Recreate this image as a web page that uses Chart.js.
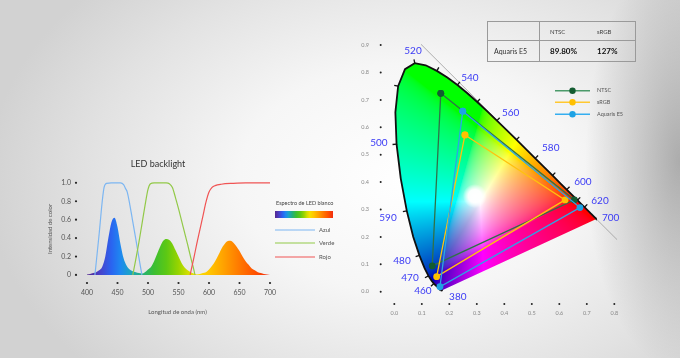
<!DOCTYPE html>
<html><head><meta charset="utf-8">
<script src="https://cdn.jsdelivr.net/npm/chart.js@4.4.1/dist/chart.umd.min.js"></script>
<style>
html,body{margin:0;padding:0;}
body{width:680px;height:358px;overflow:hidden;position:relative;font-family:Lato,"Open Sans",sans-serif;
background:
 radial-gradient(ellipse 95px 210px at 100% 45%, rgba(0,0,0,0.26), rgba(0,0,0,0) 100%),
 radial-gradient(ellipse 62% 80% at 60% 50%, #ffffff 0%, #f6f6f6 40%, #e2e2e2 75%, #d2d2d2 100%);}
#left{position:absolute;left:0;top:0;}
#right{position:absolute;left:340px;top:0;}
table{position:absolute;left:487px;top:21px;width:149px;border-collapse:collapse;border:1px solid #9a9a9a;font-family:Lato,sans-serif;}
td{padding:0;white-space:nowrap;}
tr.h td{height:18px;font-size:6px;color:#444;}
tr.v td{height:20px;font-size:8px;font-weight:bold;color:#111;border-top:1px solid #9a9a9a;}
td.c1{width:45px;padding-left:6px;border-right:1px solid #9a9a9a;font-size:7px !important;font-weight:normal !important;color:#333 !important;}
td.c2{width:38px;padding-left:10px;}
td.c3{padding-left:9px;}
</style></head>
<body>
<canvas id="left" width="340" height="358"></canvas>
<canvas id="right" width="340" height="358"></canvas>
<table id="tbl"></table>
<script>
// ---------- LEFT CHART DATA ----------
const ledTitle = 'LED backlight';
const spectrumLabel = 'Espectro de LED blanco';
const spectrumNm = [400,405,410,415,420,425,430,435,440,445,450,455,460,465,470,475,480,485,490,495,500,505,510,515,520,525,530,535,540,545,550,555,560,565,570,575,580,585,590,595,600,605,610,615,620,625,630,635,640,645,650,655,660,665,670,675,680,685,690,695,700];
const spectrumValues = [0.005,0.01,0.02,0.03,0.05,0.09,0.20,0.40,0.57,0.62,0.52,0.33,0.18,0.10,0.06,0.04,0.03,0.02,0.015,0.03,0.06,0.09,0.15,0.23,0.31,0.37,0.39,0.38,0.34,0.27,0.20,0.13,0.08,0.05,0.03,0.015,0.006,0.01,0.02,0.03,0.06,0.10,0.15,0.21,0.28,0.33,0.365,0.37,0.35,0.31,0.26,0.20,0.15,0.11,0.07,0.05,0.03,0.02,0.01,0.005,0];
const azulNm = [413,420,425,428,432,440,455,460,463,466,470,475,480,485,490];
const azulValues = [0,0.45,0.8,0.95,0.995,1.0,1.0,0.98,0.94,0.9,0.77,0.58,0.39,0.19,0];
const verdeNm = [475,480,485,490,495,500,504,510,530,535,540,545,550,555,560,565,570,575,577];
const verdeValues = [0,0.17,0.35,0.55,0.75,0.93,0.99,1.0,1.0,0.99,0.95,0.84,0.72,0.59,0.46,0.33,0.19,0.06,0];
const rojoNm = [569,575,580,585,590,595,600,605,610,620,640,660,700];
const rojoValues = [0,0.18,0.34,0.49,0.64,0.79,0.9,0.95,0.97,0.985,0.995,1.0,1.0];
const filterLabels = ['Azul','Verde','Rojo'];
const xTicksL = [400,450,500,550,600,650,700];
const yTicksL = [0,0.2,0.4,0.6,0.8,1.0];
const xTitleL = 'Longitud de onda (nm)';
const yTitleL = 'Intensidad de color';

// ---------- RIGHT CHART DATA ----------
const locusNm = [380,390,400,410,420,425,430,435,440,445,450,455,460,465,470,475,480,485,490,495,500,505,510,515,520,525,530,535,540,545,550,555,560,565,570,575,580,585,590,595,600,605,610,615,620,625,630,635,640,650,660,680,700];
const locusX = [0.1741,0.1738,0.1733,0.1726,0.1714,0.1703,0.1689,0.1669,0.1644,0.1611,0.1566,0.1510,0.1440,0.1355,0.1241,0.1096,0.0913,0.0687,0.0454,0.0235,0.0082,0.0039,0.0139,0.0389,0.0743,0.1142,0.1547,0.1929,0.2296,0.2658,0.3016,0.3373,0.3731,0.4087,0.4441,0.4788,0.5125,0.5448,0.5752,0.6029,0.6270,0.6482,0.6658,0.6801,0.6915,0.7006,0.7079,0.7140,0.7190,0.7260,0.7300,0.7334,0.7347];
const locusY = [0.0050,0.0049,0.0048,0.0048,0.0051,0.0058,0.0069,0.0086,0.0109,0.0138,0.0177,0.0227,0.0297,0.0399,0.0578,0.0868,0.1327,0.2007,0.2950,0.4127,0.5384,0.6548,0.7502,0.8120,0.8338,0.8262,0.8059,0.7816,0.7543,0.7243,0.6923,0.6589,0.6245,0.5896,0.5547,0.5202,0.4866,0.4544,0.4242,0.3965,0.3725,0.3514,0.3340,0.3197,0.3083,0.2993,0.2920,0.2859,0.2809,0.2740,0.2700,0.2666,0.2653];
const locusTickNm = [460,470,480,490,500,510,520,530,540,550,560,570,580,590,600,610,620];
const gamutLabels = ['NTSC','sRGB','Aquaris E5'];
const ntscX = [0.169,0.655,0.138];
const ntscY = [0.724,0.335,0.094];
const srgbX = [0.257,0.621,0.154];
const srgbY = [0.572,0.335,0.055];
const aquarisX = [0.249,0.675,0.166];
const aquarisY = [0.659,0.307,0.018];
const diagX = [0.097,0.81];
const diagY = [0.903,0.19];
const whitePoint = [0.293,0.349];
const wlLabels = ['520','540','560','580','600','620','700','500','590','480','470','460','380'];
const wlLabelX = [0.068,0.275,0.423,0.569,0.686,0.748,0.787,-0.056,-0.023,0.028,0.057,0.104,0.231];
const wlLabelY = [0.878,0.780,0.652,0.524,0.400,0.331,0.270,0.543,0.269,0.112,0.050,0.003,-0.018];
const xTicksR = [0,0.1,0.2,0.3,0.4,0.5,0.6,0.7,0.8];
const yTicksR = [0,0.1,0.2,0.3,0.4,0.5,0.6,0.7,0.8,0.9];

// ---------- TABLE DATA ----------
const tableHeader = ['', 'NTSC', 'sRGB'];
const tableRow = ['Aquaris E5', '89.80%', '127%'];

(function(){
  const t = document.getElementById('tbl');
  const mk = (cells, cls) => {
    const tr = document.createElement('tr'); tr.className = cls;
    cells.forEach((c,i) => { const td = document.createElement('td'); td.className = 'c'+(i+1); td.textContent = c; tr.appendChild(td); });
    t.appendChild(tr);
  };
  mk(tableHeader,'h'); mk(tableRow,'v');
})();

Chart.defaults.font.family = 'Lato, "Open Sans", sans-serif';
Chart.defaults.animation = false;
Chart.defaults.events = [];

const pts = (xs, ys) => xs.map((x,i) => ({x, y: ys[i]}));
const closed = (xs, ys) => { const p = pts(xs, ys); p.push(p[0]); return p; };

const specStops = [[400,'#55288f'],[420,'#4a3fc6'],[440,'#2a64f0'],[455,'#1e88f0'],[470,'#1ba2c8'],[490,'#22b07a'],[510,'#3cbe32'],[530,'#5cc814'],[550,'#98d400'],[565,'#d0de00'],[580,'#f6e000'],[600,'#ffc600'],[625,'#ffa000'],[650,'#ff7800'],[675,'#ff5200'],[700,'#f02c10']];

const dotTicks = {
  id: 'dotTicks',
  afterDraw(chart, args, o) {
    const ctx = chart.ctx, a = chart.chartArea, xs = chart.scales.x, ys = chart.scales.y;
    ctx.save(); ctx.fillStyle = '#222';
    xs.ticks.forEach(t => { ctx.beginPath(); ctx.arc(xs.getPixelForValue(t.value), a.bottom + o.xOff, o.r, 0, Math.PI*2); ctx.fill(); });
    ys.ticks.forEach(t => { ctx.beginPath(); ctx.arc(a.left - o.yOff, ys.getPixelForValue(t.value), o.r, 0, Math.PI*2); ctx.fill(); });
    ctx.restore();
  }
};

// ---------- LEFT CHART ----------
const leftLegend = {
  id: 'leftLegend',
  afterDraw(chart, args, o) {
    const ctx = chart.ctx;
    ctx.save();
    ctx.font = '5.5px Lato'; ctx.fillStyle = '#444'; ctx.textBaseline = 'middle'; ctx.textAlign = 'left';
    ctx.fillText(spectrumLabel, o.x + 1, o.titleY);
    const g = ctx.createLinearGradient(o.x, 0, o.x + o.barW, 0);
    specStops.forEach(s => g.addColorStop((s[0]-400)/300, s[1]));
    ctx.fillStyle = g; ctx.fillRect(o.x, o.barY, o.barW, o.barH);
    ctx.font = '6px Lato';
    for (let i = 0; i < 3; i++) {
      const ds = chart.data.datasets[i+1];
      ctx.strokeStyle = ds.borderColor; ctx.lineWidth = 1.2;
      ctx.beginPath(); ctx.moveTo(o.x, o.itemY[i]); ctx.lineTo(o.x + o.lineW, o.itemY[i]); ctx.stroke();
      ctx.fillStyle = '#555'; ctx.fillText(ds.label, o.x + o.lineW + 4, o.itemY[i]);
    }
    ctx.restore();
  }
};

new Chart(document.getElementById('left'), {
  type: 'line',
  data: { datasets: [
    { label: spectrumLabel, data: pts(spectrumNm, spectrumValues), borderWidth: 0, pointRadius: 0, fill: 'origin', cubicInterpolationMode: 'monotone', order: 5,
      backgroundColor: (c) => {
        const ch = c.chart; if (!ch.chartArea) return '#888';
        const xs = ch.scales.x; const g = ch.ctx.createLinearGradient(xs.getPixelForValue(400), 0, xs.getPixelForValue(700), 0);
        specStops.forEach(s => g.addColorStop((s[0]-400)/300, s[1])); return g; } },
    { label: filterLabels[0], data: pts(azulNm, azulValues), borderColor: '#7cb6f2', borderWidth: 1.2, pointRadius: 0, fill: false, cubicInterpolationMode: 'monotone', order: 2 },
    { label: filterLabels[1], data: pts(verdeNm, verdeValues), borderColor: '#92c948', borderWidth: 1.2, pointRadius: 0, fill: false, cubicInterpolationMode: 'monotone', order: 1 },
    { label: filterLabels[2], data: pts(rojoNm, rojoValues), borderColor: '#f05454', borderWidth: 1.2, pointRadius: 0, fill: false, cubicInterpolationMode: 'monotone', order: 0 }
  ]},
  plugins: [dotTicks, leftLegend],
  options: {
    responsive: false, maintainAspectRatio: false,
    layout: { padding: { left: 40, right: 64, top: 150, bottom: 30 } },
    plugins: {
      legend: { display: false }, tooltip: { enabled: false },
      title: { display: true, text: ledTitle, color: '#333', font: { size: 9, weight: 'normal' }, padding: { top: 9, bottom: 9 } },
      dotTicks: { xOff: 4, yOff: 3, r: 1.1 },
      leftLegend: { x: 275, titleY: 203, barY: 211, barW: 58, barH: 7, lineW: 40, itemY: [230, 243, 257] }
    },
    scales: {
      x: { type: 'linear', min: 386.9, max: 709.8,
        afterBuildTicks: s => { s.ticks = xTicksL.map(v => ({ value: v })); },
        afterFit: s => { s.height = 49; },
        grid: { display: false, drawTicks: false }, border: { display: false },
        ticks: { color: '#555', font: { size: 7 }, padding: 10, maxRotation: 0 },
        title: { display: true, text: xTitleL, color: '#555', font: { size: 6 }, padding: { top: 0, bottom: 12 } } },
      y: { type: 'linear', min: -0.044, max: 1.044,
        afterBuildTicks: s => { s.ticks = yTicksL.map(v => ({ value: v })); },
        afterFit: s => { s.width = 39; },
        grid: { display: false, drawTicks: false }, border: { display: false },
        ticks: { color: '#555', font: { size: 7 }, padding: 8, callback: v => v === 0 ? '0' : v.toFixed(1) },
        title: { display: true, text: yTitleL, color: '#555', font: { size: 6 }, padding: { top: 6, bottom: 0 } } }
    }
  }
});

// ---------- RIGHT CHART ----------
function xyToRgb(x, y) {
  if (y <= 0.0005) y = 0.0005;
  const X = x / y, Y = 1, Z = (1 - x - y) / y;
  let r = 3.2406*X - 1.5372*Y - 0.4986*Z;
  let g = -0.9689*X + 1.8758*Y + 0.0415*Z;
  let b = 0.0557*X - 0.2040*Y + 1.0570*Z;
  r = Math.max(r, 0); g = Math.max(g, 0); b = Math.max(b, 0);
  const m = Math.max(r, g, b) || 1;
  r /= m; g /= m; b /= m;
  // darken the blue-dominated corner like the reference rendering
  const f = 1 - 0.5 * Math.max(0, b - Math.max(r, g));
  const gam = v => { v = v * f; return v <= 0.0031308 ? 12.92*v : 1.055*Math.pow(v, 1/2.4) - 0.055; };
  return [gam(r)*255, gam(g)*255, gam(b)*255];
}

const chromaFill = {
  id: 'chromaFill',
  beforeDatasetsDraw(chart) {
    const meta = chart.getDatasetMeta(3);
    const el = meta.data; if (!el.length) return;
    const xs = chart.scales.x, ys = chart.scales.y, ctx = chart.ctx;
    let x0 = Infinity, y0 = Infinity, x1 = -Infinity, y1 = -Infinity;
    el.forEach(p => { x0 = Math.min(x0, p.x); x1 = Math.max(x1, p.x); y0 = Math.min(y0, p.y); y1 = Math.max(y1, p.y); });
    x0 = Math.floor(x0) - 1; y0 = Math.floor(y0) - 1; x1 = Math.ceil(x1) + 1; y1 = Math.ceil(y1) + 1;
    const w = x1 - x0, h = y1 - y0;
    const off = document.createElement('canvas'); off.width = w; off.height = h;
    const octx = off.getContext('2d'); const img = octx.createImageData(w, h);
    for (let j = 0; j < h; j++) {
      const cy = ys.getValueForPixel(y0 + j + 0.5);
      for (let i = 0; i < w; i++) {
        const cx = xs.getValueForPixel(x0 + i + 0.5);
        const c = xyToRgb(cx, cy); const k = (j*w + i)*4;
        img.data[k] = c[0]; img.data[k+1] = c[1]; img.data[k+2] = c[2]; img.data[k+3] = 255;
      }
    }
    octx.putImageData(img, 0, 0);
    ctx.save();
    ctx.beginPath(); el.forEach((p, i) => i ? ctx.lineTo(p.x, p.y) : ctx.moveTo(p.x, p.y)); ctx.closePath(); ctx.clip();
    ctx.drawImage(off, x0, y0);
    const wx = xs.getPixelForValue(whitePoint[0]), wy = ys.getPixelForValue(whitePoint[1]);
    const rg = ctx.createRadialGradient(wx, wy, 0, wx, wy, 12);
    rg.addColorStop(0, 'rgba(255,255,255,1)'); rg.addColorStop(0.55, 'rgba(255,255,255,0.95)'); rg.addColorStop(1, 'rgba(255,255,255,0)');
    ctx.fillStyle = rg; ctx.beginPath(); ctx.arc(wx, wy, 12, 0, Math.PI*2); ctx.fill();
    ctx.restore();
  },
  afterDatasetsDraw(chart, args, o) {
    const meta = chart.getDatasetMeta(3); const el = meta.data;
    const xs = chart.scales.x, ys = chart.scales.y, ctx = chart.ctx;
    const cx = xs.getPixelForValue(whitePoint[0]), cy = ys.getPixelForValue(whitePoint[1]);
    ctx.save(); ctx.strokeStyle = '#111'; ctx.lineWidth = 1.3;
    locusTickNm.forEach(nm => {
      const i = locusNm.indexOf(nm); if (i < 1) return;
      const p = el[i], a = el[i-1], b = el[Math.min(i+1, el.length-1)];
      let tx = b.x - a.x, ty = b.y - a.y; const L = Math.hypot(tx, ty) || 1; tx /= L; ty /= L;
      let nx = ty, ny = -tx;
      if ((p.x - cx)*nx + (p.y - cy)*ny < 0) { nx = -nx; ny = -ny; }
      ctx.beginPath(); ctx.moveTo(p.x, p.y); ctx.lineTo(p.x + nx*o.tick, p.y + ny*o.tick); ctx.stroke();
    });
    ctx.font = o.font; ctx.fillStyle = o.color; ctx.textAlign = 'center'; ctx.textBaseline = 'middle';
    wlLabels.forEach((t, i) => ctx.fillText(t, xs.getPixelForValue(wlLabelX[i]), ys.getPixelForValue(wlLabelY[i])));
    ctx.restore();
  }
};

const gamutLegend = {
  id: 'gamutLegend',
  afterDraw(chart, args, o) {
    const ctx = chart.ctx; ctx.save();
    ctx.font = '5.5px Lato'; ctx.textBaseline = 'middle'; ctx.textAlign = 'left';
    for (let i = 0; i < 3; i++) {
      const ds = chart.data.datasets[i], y = o.itemY[i];
      ctx.strokeStyle = o.lineColors[i]; ctx.lineWidth = 1.6;
      ctx.beginPath(); ctx.moveTo(o.x, y); ctx.lineTo(o.x + o.lineW, y); ctx.stroke();
      ctx.fillStyle = ds.pointBackgroundColor; ctx.beginPath(); ctx.arc(o.x + o.lineW/2, y, 3.2, 0, Math.PI*2); ctx.fill();
      ctx.fillStyle = '#555'; ctx.fillText(ds.label, o.x + o.lineW + 7, y);
    }
    ctx.restore();
  }
};

new Chart(document.getElementById('right'), {
  type: 'scatter',
  data: { datasets: [
    { label: gamutLabels[0], data: closed(ntscX, ntscY), showLine: true, borderColor: '#2f7248', pointBackgroundColor: '#135c31', pointBorderWidth: 0, pointRadius: 3.4, borderWidth: 1.3, order: 2 },
    { label: gamutLabels[1], data: closed(srgbX, srgbY), showLine: true, borderColor: '#ffc20e', pointBackgroundColor: '#ffc000', pointBorderWidth: 0, pointRadius: 3.4, borderWidth: 1.3, order: 1 },
    { label: gamutLabels[2], data: closed(aquarisX, aquarisY), showLine: true, borderColor: '#2ba6e6', pointBackgroundColor: '#1ea2e4', pointBorderWidth: 0, pointRadius: 3.4, borderWidth: 1.3, order: 0 },
    { label: 'locus', data: pts(locusX, locusY), showLine: true, borderColor: '#111', borderWidth: 1.8, pointRadius: 0, order: 5 },
    { label: 'diag', data: pts(diagX, diagY), showLine: true, borderColor: '#9c9c9c', borderWidth: 0.8, pointRadius: 0, order: 6 }
  ]},
  plugins: [dotTicks, chromaFill, gamutLegend],
  options: {
    responsive: false, maintainAspectRatio: false,
    layout: { padding: { left: 0, right: 40, top: 40, bottom: 0 } },
    plugins: {
      legend: { display: false }, tooltip: { enabled: false },
      dotTicks: { xOff: 4, yOff: 2.3, r: 1 },
      chromaFill: { tick: 4, font: '10px Lato', color: '#3b3bf5' },
      gamutLegend: { x: 215, lineW: 35, itemY: [90.7, 102.3, 114.3], lineColors: ['#4b9a6a', '#ffc830', '#35aef0'] }
    },
    scales: {
      x: { type: 'linear', min: -0.0411, max: 0.8935,
        afterBuildTicks: s => { s.ticks = xTicksR.map(v => ({ value: v })); },
        afterFit: s => { s.height = 58; },
        grid: { display: false, drawTicks: false }, border: { display: false },
        ticks: { color: '#888', font: { size: 5.5 }, padding: 10, maxRotation: 0, callback: v => v.toFixed(1) } },
      y: { type: 'linear', min: -0.0303, max: 0.9186,
        afterBuildTicks: s => { s.ticks = yTicksR.map(v => ({ value: v })); },
        afterFit: s => { s.width = 43; },
        grid: { display: false, drawTicks: false }, border: { display: false },
        ticks: { color: '#888', font: { size: 5.5 }, padding: 14, callback: v => v.toFixed(1) } }
    }
  }
});
</script>
</body></html>
